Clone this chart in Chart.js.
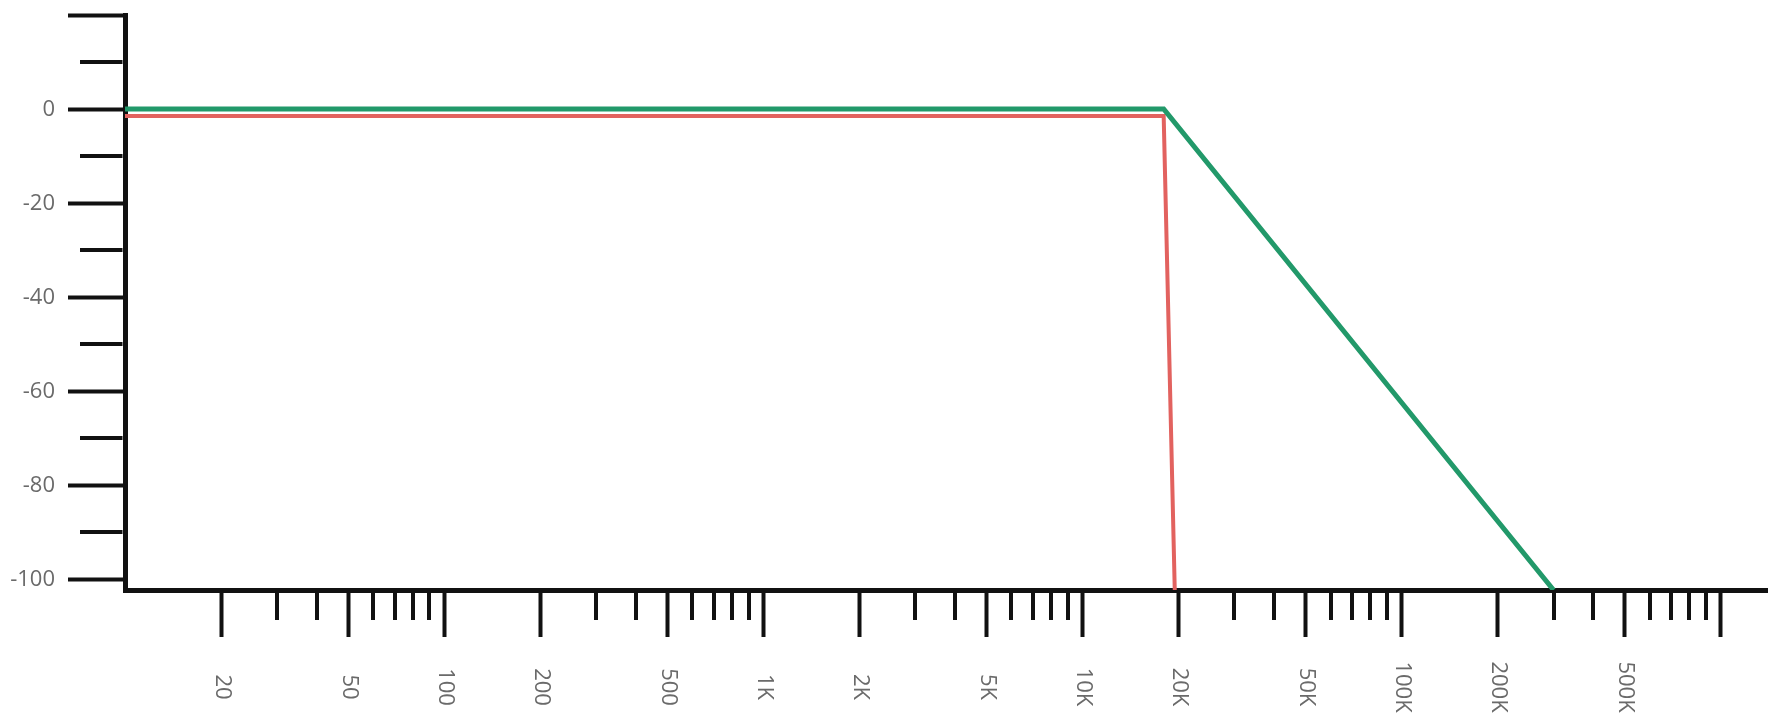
<!DOCTYPE html>
<html>
<head>
<meta charset="utf-8">
<title>Filter response</title>
<script src="https://cdn.jsdelivr.net/npm/chart.js@4.4.1/dist/chart.umd.min.js"></script>
<style>
  html, body { margin: 0; padding: 0; background: #ffffff; }
  #wrap { width: 1770px; height: 721px; }
</style>
</head>
<body>
<div id="wrap"><canvas id="chart" width="1770" height="721"></canvas></div>
<script>
// Frequency axis (Hz): every tick mark, the long ones, and the labelled ones
const freqTicks = [
  20, 30, 40, 50, 60, 70, 80, 90,
  100, 200, 300, 400, 500, 600, 700, 800, 900,
  1000, 2000, 3000, 4000, 5000, 6000, 7000, 8000, 9000,
  10000, 20000, 30000, 40000, 50000, 60000, 70000, 80000, 90000,
  100000, 200000, 300000, 400000, 500000, 600000, 700000, 800000, 900000,
  1000000
];
const freqMajor = [20, 50, 100, 200, 500, 1000, 2000, 5000, 10000, 20000, 50000, 100000, 200000, 500000, 1000000];
const freqLabelValues = [20, 50, 100, 200, 500, 1000, 2000, 5000, 10000, 20000, 50000, 100000, 200000, 500000];
const freqLabelText = ['20', '50', '100', '200', '500', '1K', '2K', '5K', '10K', '20K', '50K', '100K', '200K', '500K'];

// Level axis (dB)
const levelTicks = [20, 10, 0, -10, -20, -30, -40, -50, -60, -70, -80, -90, -100];
const levelMajor = [20, 0, -20, -40, -60, -80, -100];
const levelLabelValues = [0, -20, -40, -60, -80, -100];
const levelLabelText = ['0', '-20', '-40', '-60', '-80', '-100'];

// Gentle roll-off response
const slopeFreq = [10, 18000, 300000];
const slopeLevel = [0, 0, -102.3];

// Brick-wall response
const wallFreq = [10, 18000, 19500];
const wallLevel = [-1.5, -1.5, -102.3];

const INK = '#111111';
const LABEL = '#6a6a6a';
const LABEL_FONT = '22px "Open Sans", "DejaVu Sans", sans-serif';

const toPoints = (xs, ys) => xs.map((x, i) => ({ x: x, y: ys[i] }));

// Short tick marks and the tick labels
const axisDecor = {
  id: 'axisDecor',
  afterDraw(chart) {
    const { ctx, chartArea: area } = chart;
    const xs = chart.scales.x;
    const ys = chart.scales.y;
    ctx.save();
    ctx.strokeStyle = INK;
    ctx.lineWidth = 4;
    ctx.lineCap = 'butt';

    freqTicks.filter(v => !freqMajor.includes(v)).forEach(v => {
      const px = Math.round(xs.getPixelForValue(v));
      ctx.beginPath();
      ctx.moveTo(px, area.bottom + 2.5);
      ctx.lineTo(px, area.bottom + 30);
      ctx.stroke();
    });

    levelTicks.filter(v => !levelMajor.includes(v)).forEach(v => {
      const py = Math.round(ys.getPixelForValue(v));
      ctx.beginPath();
      ctx.moveTo(area.left - 2.5, py);
      ctx.lineTo(area.left - 45, py);
      ctx.stroke();
    });

    ctx.fillStyle = LABEL;
    ctx.font = LABEL_FONT;

    // frequency labels, rotated to read downward
    ctx.textAlign = 'center';
    ctx.textBaseline = 'middle';
    freqLabelValues.forEach((v, i) => {
      const px = xs.getPixelForValue(v);
      ctx.save();
      ctx.translate(px + 1, area.bottom + 97);
      ctx.rotate(Math.PI / 2);
      ctx.fillText(freqLabelText[i], 0, 0);
      ctx.restore();
    });

    // level labels
    ctx.textAlign = 'right';
    ctx.textBaseline = 'middle';
    levelLabelValues.forEach((v, i) => {
      const py = ys.getPixelForValue(v);
      ctx.fillText(levelLabelText[i], area.left - 70, py + 1);
    });
    ctx.restore();
  }
};

new Chart(document.getElementById('chart'), {
  type: 'line',
  data: {
    datasets: [
      {
        label: 'Roll-off',
        data: toPoints(slopeFreq, slopeLevel),
        borderColor: '#22996a',
        borderWidth: 5,
        pointRadius: 0,
        tension: 0,
        fill: false
      },
      {
        label: 'Brick-wall',
        data: toPoints(wallFreq, wallLevel),
        borderColor: '#e2625f',
        borderWidth: 4,
        pointRadius: 0,
        tension: 0,
        fill: false
      }
    ]
  },
  options: {
    responsive: false,
    devicePixelRatio: 1,
    animation: false,
    layout: { padding: { left: 68, top: 15, right: 3, bottom: 84 } },
    plugins: { legend: { display: false }, tooltip: { enabled: false } },
    scales: {
      x: {
        type: 'logarithmic',
        min: 10,
        max: 1400000,
        bounds: 'data',
        afterBuildTicks: s => { s.ticks = freqTicks.map(v => ({ value: v })); },
        ticks: { display: false },
        grid: {
          display: true,
          drawOnChartArea: false,
          drawTicks: true,
          tickLength: 47,
          tickWidth: 4,
          tickColor: c => (c.tick && freqMajor.includes(c.tick.value)) ? INK : 'rgba(0,0,0,0)'
        },
        border: { display: true, color: INK, width: 5 }
      },
      y: {
        type: 'linear',
        min: -102.3,
        max: 20,
        bounds: 'data',
        afterBuildTicks: s => { s.ticks = levelTicks.map(v => ({ value: v })); },
        ticks: { display: false },
        grid: {
          display: true,
          drawOnChartArea: false,
          drawTicks: true,
          tickLength: 57,
          tickWidth: 4,
          tickColor: c => (c.tick && levelMajor.includes(c.tick.value)) ? INK : 'rgba(0,0,0,0)'
        },
        border: { display: true, color: INK, width: 5 }
      }
    }
  },
  plugins: [axisDecor]
});
</script>
</body>
</html>
